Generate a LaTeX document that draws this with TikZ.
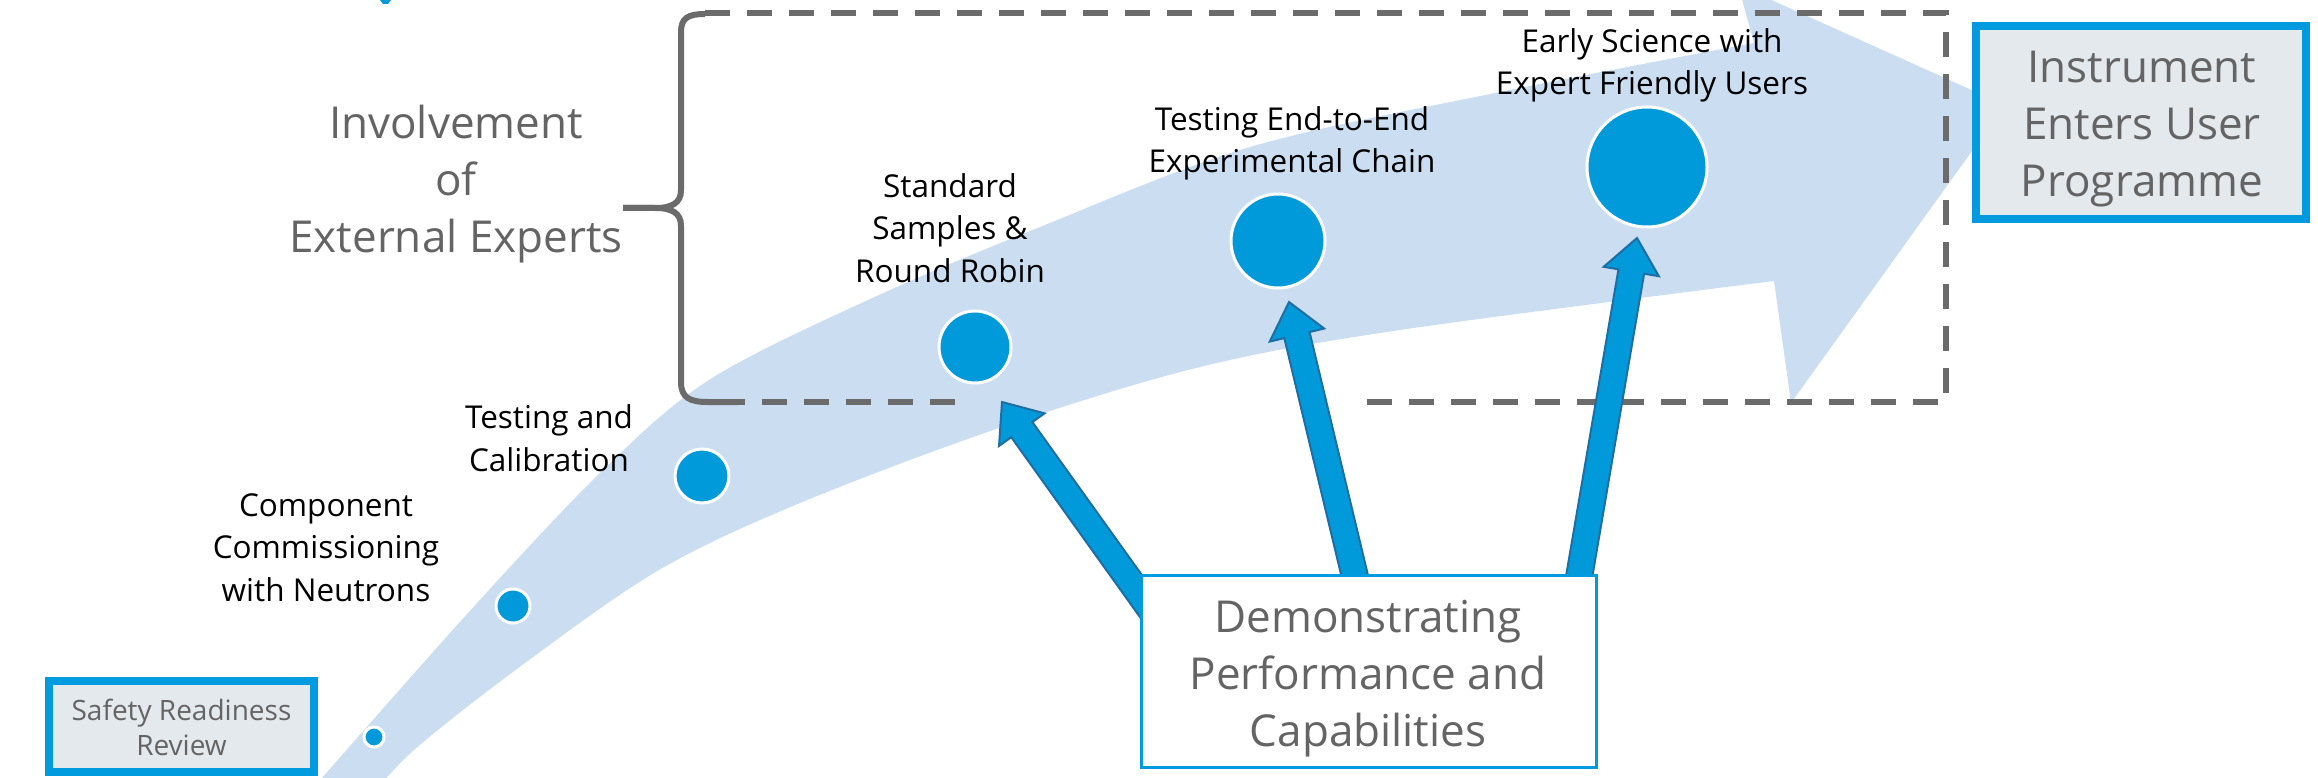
\documentclass[tikz,border=0pt]{standalone}
\usepackage{fontspec}
\setmainfont{Open Sans}
\definecolor{bandblue}{HTML}{CBDDF1}
\definecolor{dotblue}{HTML}{009ADB}
\definecolor{arrowline}{HTML}{1F6EA3}
\definecolor{boxblue}{HTML}{009ADE}
\definecolor{boxfill}{HTML}{E4E9EE}
\definecolor{graytext}{HTML}{646464}
\definecolor{dashgray}{HTML}{6B6B6B}
\newcommand\blockarrow[3]{%
  \begin{scope}[shift={(#1)},rotate=#2]
    \filldraw[arrowstyle] (0,0) -- (34,-28) -- (34,-13) -- (#3,-13) -- (#3,13) -- (34,13) -- (34,28) -- cycle;
  \end{scope}}
\begin{document}
\begin{tikzpicture}[x=1pt,y=-1pt,
  dashline/.style={draw=dashgray, line width=5.5pt, dash pattern=on 25pt off 17pt},
  bracestyle/.style={draw=dashgray, line width=6pt},
  dot/.style={circle, fill=dotblue, draw=white, line width=3pt, inner sep=0pt},
  arrowstyle/.style={fill=dotblue, draw=arrowline, line width=2pt, line join=miter},
  steplabel/.style={font=\fontsize{31.5}{42.5}\selectfont, align=center, anchor=base, inner sep=0pt, text=black},
  bigtext/.style={font=\fontsize{44}{57}\selectfont, align=center, anchor=base, inner sep=0pt, text=graytext},
  smalltext/.style={font=\fontsize{28}{35}\selectfont, align=center, anchor=base, inner sep=0pt, text=graytext},
  milestone/.style={rectangle, draw=boxblue, fill=boxfill, line width=8pt, inner sep=0pt},
  demobox/.style={rectangle, draw=boxblue, fill=white, line width=3pt, inner sep=0pt}
]
\useasboundingbox (0,0) rectangle (2318,778);
\clip (0,0) rectangle (2318,778);

% main curved block arrow
\fill[bandblue] plot[smooth, tension=0.55] coordinates {(300,803) (468,613) (602,471) (709,380) (868,300) (1040,227) (1250,147) (1500,92) (1754,43)}
  -- (1738,-15) -- (2005,105) -- (1791,403)
  -- plot[smooth, tension=0.55] coordinates {(1774,281) (1400,330) (1200,367) (1002,427) (800,503) (659,570) (525,663) (414,750) (366,803)} -- cycle;

% fragment of a cut-off title
\fill[dotblue] (380,0) -- (391,0) -- (388,4) -- (383,4) -- cycle;

% dashed frame and brace
\draw[dashline] (705,13) -- (1946,13) -- (1946,402) -- (1355,402);
\draw[dashline] (955,402) -- (738,402);
\draw[bracestyle] (705,14) .. controls (688,14) and (681,18) .. (681,32) -- (681,190)
  .. controls (681,203) and (672,208) .. (655,208) -- (623,208);
\draw[bracestyle] (623,208) -- (655,208) .. controls (672,208) and (681,213) .. (681,226) -- (681,382)
  .. controls (681,398) and (690,402) .. (708,402) -- (738,402);

% milestones
\node[dot, minimum size=20pt] (c1) at (374,737) {};
\node[dot, minimum size=34pt] (c2) at (513,606) {};
\node[dot, minimum size=54pt] (c3) at (702,476) {};
\node[dot, minimum size=72pt] (c4) at (975,347) {};
\node[dot, minimum size=94pt] (c5) at (1278,241) {};
\node[dot, minimum size=120pt] (c6) at (1647,167) {};

% arrows from the demonstration box
\coordinate (tipA) at (1002,402);
\coordinate (tipB) at (1289,302);
\coordinate (tipC) at (1637,238);
\blockarrow{tipA}{-54.4}{260}
\blockarrow{tipB}{-76.5}{300}
\blockarrow{tipC}{-99.7}{360}

% boxes
\node[demobox, minimum width=455pt, minimum height=192pt] (demo) at (1368.5,671) {};
\node[bigtext] (demotext) at (1368,746) {Demonstrating\\Performance and\\Capabilities};
\node[milestone, minimum width=265pt, minimum height=91pt] (safety) at (181.5,726.5) {};
\node[smalltext] (safetytext) at (181.5,755) {Safety Readiness\\Review};
\node[milestone, minimum width=330pt, minimum height=193pt] (instr) at (2141,122.5) {};
\node[bigtext, font=\fontsize{44}{57.5}\selectfont] (instrtext) at (2142,197) {Instrument\\Enters User\\Programme};

% texts
\node[bigtext] (involve) at (456,252) {Involvement\\of\\External Experts};
\node[steplabel] (lcomp) at (326,601) {Component\\Commissioning\\with Neutrons};
\node[steplabel] (ltest) at (549,471) {Testing and\\Calibration};
\node[steplabel] (lstd) at (950,282) {Standard\\Samples \&\\Round Robin};
\node[steplabel] (lend) at (1292,173) {Testing End-to-End\\Experimental Chain};
\node[steplabel] (learly) at (1652,95) {Early Science with\\Expert Friendly Users};
\end{tikzpicture}
\end{document}
